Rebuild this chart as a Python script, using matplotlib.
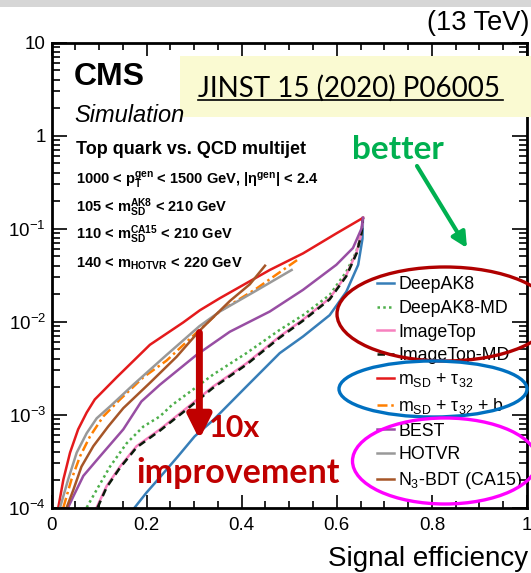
import numpy as np
import matplotlib
matplotlib.use("Agg")
import matplotlib.pyplot as plt
from matplotlib.patches import Ellipse, Rectangle
from matplotlib.ticker import FixedLocator, FixedFormatter, NullFormatter

plt.rcParams['font.family'] = ['Liberation Sans', 'DejaVu Sans']
plt.rcParams['mathtext.fontset'] = 'custom'
plt.rcParams['mathtext.rm'] = 'Liberation Sans'
plt.rcParams['mathtext.it'] = 'Liberation Sans:italic'
plt.rcParams['mathtext.bf'] = 'Liberation Sans:bold'

# ROC curves: signal efficiency vs background (QCD) efficiency
deepak8_x = [0.175, 0.2, 0.224, 0.266, 0.301, 0.340, 0.41, 0.48, 0.529, 0.585, 0.62, 0.645, 0.654, 0.655]
deepak8_y = [1e-4, 1.45e-4, 2.0e-4, 3.55e-4, 5.82e-4, 8.7e-4, 2.0e-3, 4.57e-3, 6.9e-3, 0.0117, 0.0209, 0.0407, 0.0776, 0.130]

deepak8md_x = [0.074, 0.095, 0.123, 0.158, 0.193, 0.228, 0.253, 0.298, 0.340, 0.41, 0.48, 0.529, 0.585, 0.62, 0.641, 0.652, 0.655]
deepak8md_y = [1e-4, 1.55e-4, 2.75e-4, 4.9e-4, 7.41e-4, 9.55e-4, 1.26e-3, 1.86e-3, 2.69e-3, 4.57e-3, 8.13e-3, 0.0117, 0.0193, 0.0343, 0.0562, 0.0923, 0.130]

imagetop_x = [0.095, 0.116, 0.144, 0.179, 0.228, 0.284, 0.340, 0.41, 0.48, 0.529, 0.585, 0.62, 0.642, 0.652, 0.655]
imagetop_y = [1e-4, 1.7e-4, 2.75e-4, 4.57e-4, 6.92e-4, 1.17e-3, 2.0e-3, 3.55e-3, 6.92e-3, 0.0105, 0.0178, 0.0316, 0.0562, 0.0912, 0.130]

imagetopmd_x = [0.097, 0.116, 0.144, 0.179, 0.228, 0.284, 0.340, 0.41, 0.48, 0.529, 0.585, 0.62, 0.642, 0.652, 0.655]
imagetopmd_y = [1e-4, 1.65e-4, 2.67e-4, 4.43e-4, 6.71e-4, 1.13e-3, 1.94e-3, 3.44e-3, 6.71e-3, 0.0102, 0.0173, 0.0307, 0.0546, 0.0885, 0.130]

msd_tau_x = [0.0143, 0.025, 0.039, 0.056, 0.074, 0.091, 0.137, 0.207, 0.277, 0.312, 0.354, 0.459, 0.529, 0.599, 0.655]
msd_tau_y = [1e-4, 2.0e-4, 3.89e-4, 6.92e-4, 1.05e-3, 1.45e-3, 2.51e-3, 5.62e-3, 9.77e-3, 0.0132, 0.0178, 0.0358, 0.054, 0.0885, 0.130]

msd_tau_b_x = [0.025, 0.042, 0.060, 0.081, 0.109, 0.144, 0.193, 0.242, 0.305, 0.354, 0.43, 0.522]
msd_tau_b_y = [1e-4, 2.0e-4, 3.55e-4, 5.82e-4, 9.55e-4, 1.45e-3, 2.51e-3, 3.8e-3, 7.59e-3, 0.0129, 0.0224, 0.0479]

best_x = [0.035, 0.046, 0.067, 0.102, 0.151, 0.189, 0.228, 0.305, 0.375, 0.459, 0.529, 0.599, 0.634, 0.652, 0.655]
best_y = [1e-4, 1.32e-4, 2.19e-4, 3.55e-4, 6.92e-4, 1.38e-3, 2.09e-3, 4.37e-3, 7.76e-3, 0.0128, 0.0219, 0.0407, 0.0617, 0.1, 0.130]

hotvr_x = [0.018, 0.035, 0.053, 0.074, 0.095, 0.126, 0.172, 0.242, 0.311, 0.354, 0.43, 0.505]
hotvr_y = [1e-4, 2.0e-4, 3.89e-4, 6.3e-4, 9.1e-4, 1.26e-3, 2.09e-3, 4.37e-3, 8.9e-3, 0.0128, 0.0214, 0.0358]

n3bdt_x = [0.032, 0.046, 0.063, 0.088, 0.119, 0.151, 0.207, 0.263, 0.311, 0.375, 0.417, 0.449]
n3bdt_y = [1e-4, 1.55e-4, 2.75e-4, 4.57e-4, 7.41e-4, 1.17e-3, 2.19e-3, 4.17e-3, 7.94e-3, 0.0166, 0.0251, 0.0398]

y_ticks = [1e-4, 1e-3, 1e-2, 1e-1, 1, 10]
y_ticklabels = ['$10^{-4}$', '$10^{-3}$', '$10^{-2}$', '$10^{-1}$', '1', '10']
x_ticks = [0, 0.2, 0.4, 0.6, 0.8, 1.0]
x_ticklabels = ['0', '0.2', '0.4', '0.6', '0.8', '1']

W, H = 531, 573
fig = plt.figure(figsize=(W / 100, H / 100), dpi=100)
ax = fig.add_axes([51.5 / W, 1 - 507.5 / H, (527 - 51.5) / W, (507.5 - 42.5) / H])

curves = [
    (deepak8_x, deepak8_y, 'DeepAK8', '#377eb8', '-'),
    (deepak8md_x, deepak8md_y, 'DeepAK8-MD', '#4daf4a', (0, (1, 1.3))),
    (imagetop_x, imagetop_y, 'ImageTop', '#f781bf', '-'),
    (imagetopmd_x, imagetopmd_y, 'ImageTop-MD', '#0b1a0b', (0, (3, 2))),
    (msd_tau_x, msd_tau_y, r'm$_{\mathrm{SD}}$ + τ$_{32}$', '#e41a1c', '-'),
    (msd_tau_b_x, msd_tau_b_y, r'm$_{\mathrm{SD}}$ + τ$_{32}$ + b', '#ff7f00', (0, (4, 1.5, 1, 1.5))),
    (best_x, best_y, 'BEST', '#984ea3', '-'),
    (hotvr_x, hotvr_y, 'HOTVR', '#999999', '-'),
    (n3bdt_x, n3bdt_y, r'N$_{3}$-BDT (CA15)', '#a65628', '-'),
]
handles = []
for xs, ys, lab, col, ls in curves:
    ln, = ax.plot(xs, ys, color=col, ls=ls, lw=1.8, label=lab, solid_joinstyle='round')
    handles.append(ln)

ax.set_yscale('log')
ax.set_xlim(0, 1)
ax.set_ylim(1e-4, 10)
ax.yaxis.set_major_locator(FixedLocator(y_ticks))
ax.yaxis.set_major_formatter(FixedFormatter(y_ticklabels))
ax.yaxis.set_minor_locator(FixedLocator([m * 10.0 ** e for e in range(-4, 1) for m in range(2, 10)]))
ax.yaxis.set_minor_formatter(NullFormatter())
ax.xaxis.set_major_locator(FixedLocator(x_ticks))
ax.xaxis.set_major_formatter(FixedFormatter(x_ticklabels))
ax.xaxis.set_minor_locator(FixedLocator(np.arange(0, 1.001, 0.05)))
for s in ax.spines.values():
    s.set_linewidth(2)
ax.tick_params(which='both', direction='in', top=True, right=True, width=1.2, labelsize=13.5)
ax.tick_params(axis='y', which='major', length=11, pad=4)
ax.tick_params(axis='y', which='minor', length=5.5)
ax.tick_params(axis='x', which='major', length=9.5, pad=7)
ax.tick_params(axis='x', which='minor', length=5)

# overlay in pixel coordinates for labels and annotations
ov = fig.add_axes([0, 0, 1, 1], zorder=10)
ov.set_xlim(0, W)
ov.set_ylim(H, 0)
ov.axis('off')
ov.patch.set_alpha(0)

ov.add_patch(Rectangle((0, 0), W, 7, color='#d6d6d6', lw=0))
ov.text(529, 30, '(13 TeV)', fontsize=19.5, ha='right', va='baseline')
ov.text(528, 566, 'Signal efficiency', fontsize=20, ha='right', va='baseline')

ov.text(74, 85, 'CMS', fontsize=23, fontweight='bold', va='baseline')
ov.text(74, 122, 'Simulation', fontsize=17, style='italic', va='baseline')
ov.text(76, 154, 'Top quark vs. QCD multijet', fontsize=13, fontweight='bold', va='baseline')
kin = [
    (185, r'1000 < $\mathbf{p_{T}^{gen}}$ < 1500 GeV, |$\mathbf{\eta^{gen}}$| < 2.4'),
    (212, r'105 < $\mathbf{m_{SD}^{AK8}}$ < 210 GeV'),
    (239, r'110 < $\mathbf{m_{SD}^{CA15}}$ < 210 GeV'),
    (268, r'140 < $\mathbf{m_{HOTVR}}$ < 220 GeV'),
]
for yb, t in kin:
    ov.text(76, yb, t, fontsize=10.5, fontweight='bold', va='baseline')

ov.add_patch(Rectangle((180, 56), W - 180, 61, color='#fafad2', lw=0))
ov.text(198, 97, 'JINST 15 (2020) P06005', fontsize=20, family='Lato', va='baseline')
ov.plot([198, 503], [100, 100], color='black', lw=1.2)

ov.text(352, 159, 'better', fontsize=24, family='Lato', fontweight='bold', color='#00b050', va='baseline')
ov.annotate('', xy=(467, 248), xytext=(417, 166),
            arrowprops=dict(arrowstyle='-|>,head_width=0.45,head_length=0.9', lw=3,
                            color='#00b050', shrinkA=0, shrinkB=0))

ax.annotate('', xy=(0.311, 5.4e-4), xytext=(0.311, 7.6e-3),
            arrowprops=dict(arrowstyle='-|>,head_width=0.35,head_length=0.7', lw=5,
                            color='#c00000', shrinkA=0, shrinkB=0, mutation_scale=20))
ov.text(209, 437, '10x', fontsize=22, family='Lato', fontweight='bold', color='#c00000', va='baseline')
ov.text(136, 483, 'improvement', fontsize=24.5, family='Lato', fontweight='bold', color='#c00000', va='baseline')

leg = ax.legend(handles=handles, loc='upper left', bbox_to_anchor=(377, 276),
                bbox_transform=ov.transData, frameon=False, fontsize=12.8,
                handlelength=0.95, handletextpad=0.25, labelspacing=0.38, borderpad=0,
                borderaxespad=0)
leg.set_zorder(5)

ov.add_patch(Ellipse((445, 314), 216, 94, fill=False, ec='#b00000', lw=2.4))
ov.add_patch(Ellipse((433, 389), 188, 56, fill=False, ec='#0070c0', lw=2.4))
ov.add_patch(Ellipse((445, 461), 185, 86, fill=False, ec='#ff00ff', lw=2.4))

fig.savefig('out.png', dpi=100)
